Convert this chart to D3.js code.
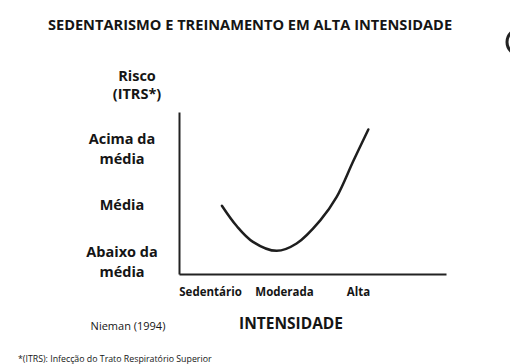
<!DOCTYPE html>
<html>
<head>
<meta charset="utf-8">
<script src="https://cdn.jsdelivr.net/npm/d3@7"></script>
<style>
  body { margin: 0; background: #fff; }
  text { font-family: "Open Sans", "Noto Sans", sans-serif; fill: #151515; }
</style>
</head>
<body>
<div id="chart"></div>
<script>
// intensity categories on the x axis
var xCategories = ["Sedentário", "Moderada", "Alta"];
// risk levels on the y axis (two-line labels)
var yLevels = [["Abaixo da", "média"], ["Média"], ["Acima da", "média"]];
// curve: intensity (0 = sedentário .. 2 = alta), risk (1 = abaixo .. 3 = acima)
var curveX = [0.16, 0.36, 0.58, 0.90, 1.17, 1.49, 1.71, 1.94, 2.14];
var curveY = [2.00, 1.64, 1.36, 1.20, 1.33, 1.74, 2.15, 2.80, 3.35];

var width = 510, height = 364;

var svg = d3.select("#chart").append("svg")
	.attr("width", width)
	.attr("height", height);

// Scales
var x = d3.scaleLinear()
	.domain([-0.42, 3.19])
	.range([179, 446]);

var y = d3.scaleLinear()
	.domain([0.79, 3.66])
	.range([274, 112]);

// Title
svg.append("text")
	.attr("x", 250)
	.attr("y", 30)
	.attr("text-anchor", "middle")
	.style("font-size", "14.6px")
	.style("font-weight", "bold")
	.text("SEDENTARISMO E TREINAMENTO EM ALTA INTENSIDADE");

// dark round thing at the right edge
svg.append("circle")
	.attr("cx", 520)
	.attr("cy", 42)
	.attr("r", 13)
	.attr("fill", "none")
	.attr("stroke", "#222")
	.attr("stroke-width", 3);

// Axes
var xAxis = d3.axisBottom(x)
	.tickValues([0, 1, 2])
	.tickSize(0)
	.tickPadding(14)
	.tickFormat(function (d, i) { return xCategories[i]; });

var yAxis = d3.axisLeft(y)
	.tickValues([])
	.tickSize(0);

var gx = svg.append("g")
	.attr("class", "x-axis axis")
	.attr("transform", "translate(0," + 274 + ")")
	.call(xAxis);

gx.select(".domain").attr("stroke", "#222").attr("stroke-width", 2);
gx.selectAll(".tick text")
	.attr("fill", "#151515")
	.style("font-family", "'Open Sans', sans-serif")
	.style("font-size", "11.5px")
	.style("font-weight", "bold");

var gy = svg.append("g")
	.attr("class", "y-axis axis")
	.attr("transform", "translate(" + 179 + ",0)")
	.call(yAxis);

gy.select(".domain").attr("stroke", "#222").attr("stroke-width", 2);

// y level labels
var labelX = 122;
yLevels.forEach(function (lines, i) {
	var lv = i + 1;
	var t = svg.append("text")
		.attr("x", labelX)
		.attr("text-anchor", "middle")
		.style("font-size", "14.5px")
		.style("font-weight", "bold");
	var top = lines.length === 1 ? y(lv) + 4 : y(lv) - 5;
	lines.forEach(function (l, j) {
		t.append("tspan")
			.attr("x", labelX)
			.attr("y", top + j * 19.5)
			.text(l);
	});
});

// y axis title
svg.append("text")
	.attr("x", 137)
	.attr("y", 81)
	.attr("text-anchor", "middle")
	.style("font-size", "14.5px")
	.style("font-weight", "bold")
	.text("Risco");
svg.append("text")
	.attr("x", 137)
	.attr("y", 99)
	.attr("text-anchor", "middle")
	.style("font-size", "14.5px")
	.style("font-weight", "bold")
	.text("(ITRS*)");

// the curve
var pts = curveX.map(function (d, i) { return [d, curveY[i]]; });
var line = d3.line()
	.x(function (d) { return x(d[0]); })
	.y(function (d) { return y(d[1]); })
	.curve(d3.curveCatmullRom);

svg.append("path")
	.datum(pts)
	.attr("d", line)
	.attr("fill", "none")
	.attr("stroke", "#1e1e1e")
	.attr("stroke-width", 2.5)
	.attr("stroke-linecap", "round");

// x axis title
svg.append("text")
	.attr("x", 291)
	.attr("y", 329)
	.attr("text-anchor", "middle")
	.style("font-size", "15.5px")
	.style("font-weight", "bold")
	.text("INTENSIDADE");

// source
svg.append("text")
	.attr("x", 128)
	.attr("y", 330)
	.attr("text-anchor", "middle")
	.style("font-size", "11px")
	.text("Nieman (1994)");

// footnote
svg.append("text")
	.attr("x", 18)
	.attr("y", 362)
	.style("font-size", "8.8px")
	.text("*(ITRS): Infecção do Trato Respiratório Superior");
</script>
</body>
</html>
